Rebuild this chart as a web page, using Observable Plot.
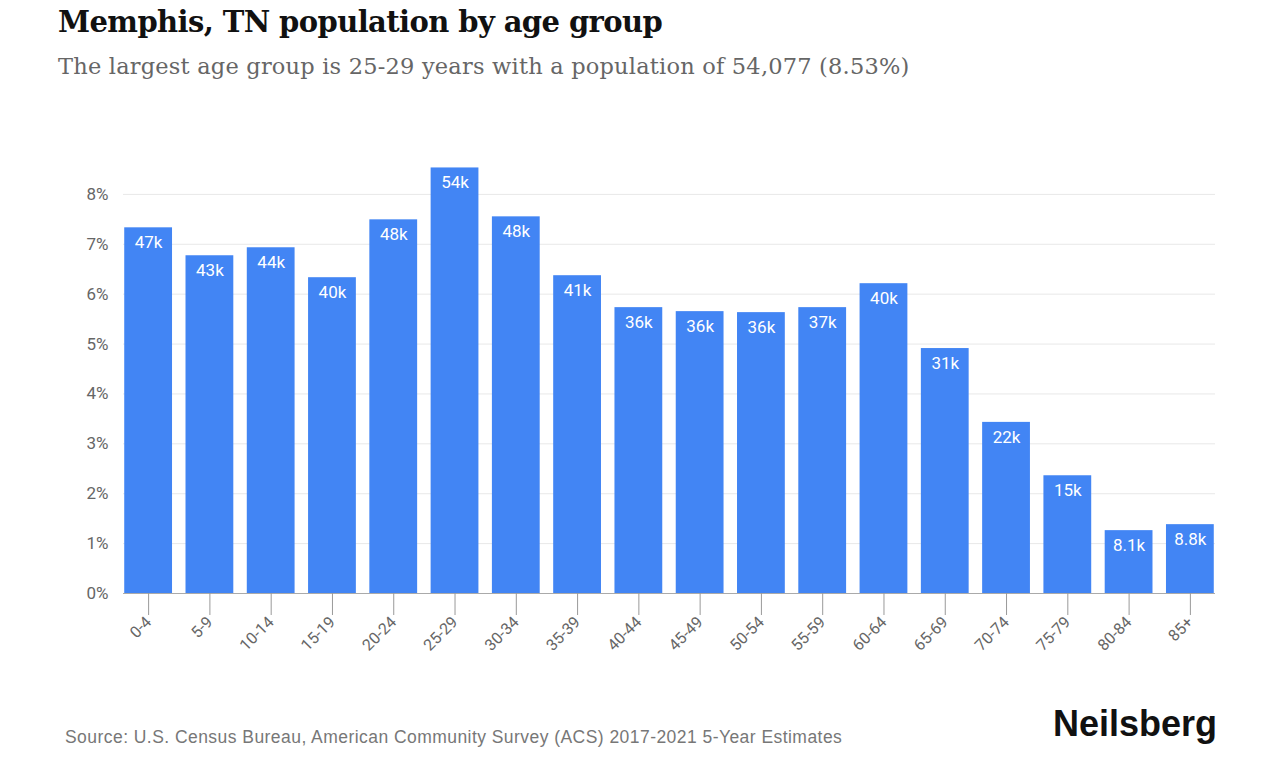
<!DOCTYPE html>
<html>
<head>
<meta charset="utf-8">
<script src="https://cdn.jsdelivr.net/npm/d3@7"></script>
<script src="https://cdn.jsdelivr.net/npm/@observablehq/plot@0.6"></script>
<style>
  html, body { margin: 0; padding: 0; background: #fff; width: 1278px; height: 760px; overflow: hidden; }
  #title { position: absolute; left: 58px; top: 5px; font-family: "DejaVu Serif", serif; font-size: 29px; font-weight: 600; color: #111; letter-spacing: -0.6px; }
  #subtitle { position: absolute; left: 58px; top: 53px; font-family: "DejaVu Serif", serif; font-size: 22.5px; color: #666; letter-spacing: 0.2px; }
  #chart { position: absolute; left: 0; top: 140px; }
  #source { position: absolute; left: 65px; top: 727px; font-family: "Liberation Sans", Arial, sans-serif; font-size: 17.5px; color: #777; letter-spacing: 0.45px; }
  #brand { position: absolute; left: 1053px; top: 703px; font-family: "Liberation Sans", Arial, sans-serif; font-weight: 700; font-size: 36px; color: #111; letter-spacing: 0px; }
</style>
</head>
<body>
<div id="title">Memphis, TN population by age group</div>
<div id="subtitle">The largest age group is 25-29 years with a population of 54,077 (8.53%)</div>
<div id="chart"></div>
<div id="source">Source: U.S. Census Bureau, American Community Survey (ACS) 2017-2021 5-Year Estimates</div>
<div id="brand">Neilsberg</div>
<script>
const ageGroups = ["0-4","5-9","10-14","15-19","20-24","25-29","30-34","35-39","40-44","45-49","50-54","55-59","60-64","65-69","70-74","75-79","80-84","85+"];
const sharePct = [7.33, 6.77, 6.93, 6.33, 7.49, 8.53, 7.55, 6.37, 5.73, 5.65, 5.63, 5.73, 6.21, 4.91, 3.43, 2.36, 1.26, 1.38];
const valueLabels = ["47k","43k","44k","40k","48k","54k","48k","41k","36k","36k","36k","37k","40k","31k","22k","15k","8.1k","8.8k"];
const yTicks = [0,1,2,3,4,5,6,7,8];

const data = ageGroups.map((g, i) => ({group: g, pct: sharePct[i], label: valueLabels[i]}));

const chart = Plot.plot({
  width: 1278,
  height: 530,
  marginLeft: 123,
  marginRight: 63,
  marginTop: 4,
  marginBottom: 77,
  style: {fontFamily: "Roboto, sans-serif", fontSize: "16px", color: "#666", background: "transparent"},
  x: {domain: ageGroups, paddingInner: 0.22, paddingOuter: 0.02, round: false, label: null},
  y: {domain: [0, 9], label: null},
  marks: [
    Plot.gridY(yTicks, {stroke: "#e8e8e8", strokeOpacity: 1}),
    Plot.axisY(yTicks, {tickSize: 0, tickPadding: 15, tickFormat: d => d + "%", label: null, fontSize: 17, fill: "#666"}),
    Plot.barY(data, {x: "group", y: "pct", fill: "#4285f4"}),
    Plot.text(data, {x: "group", y: "pct", text: "label", dy: 15, fill: "#fff", fontSize: 17, textAnchor: "middle"}),
    Plot.ruleY([0], {stroke: "#aaa"}),
    Plot.axisX({tickSize: 22, tickPadding: 4, tickRotate: -45, label: null, fontSize: 16, fill: "#666", stroke: "#999"})
  ]
});
document.getElementById("chart").appendChild(chart);
</script>
</body>
</html>
